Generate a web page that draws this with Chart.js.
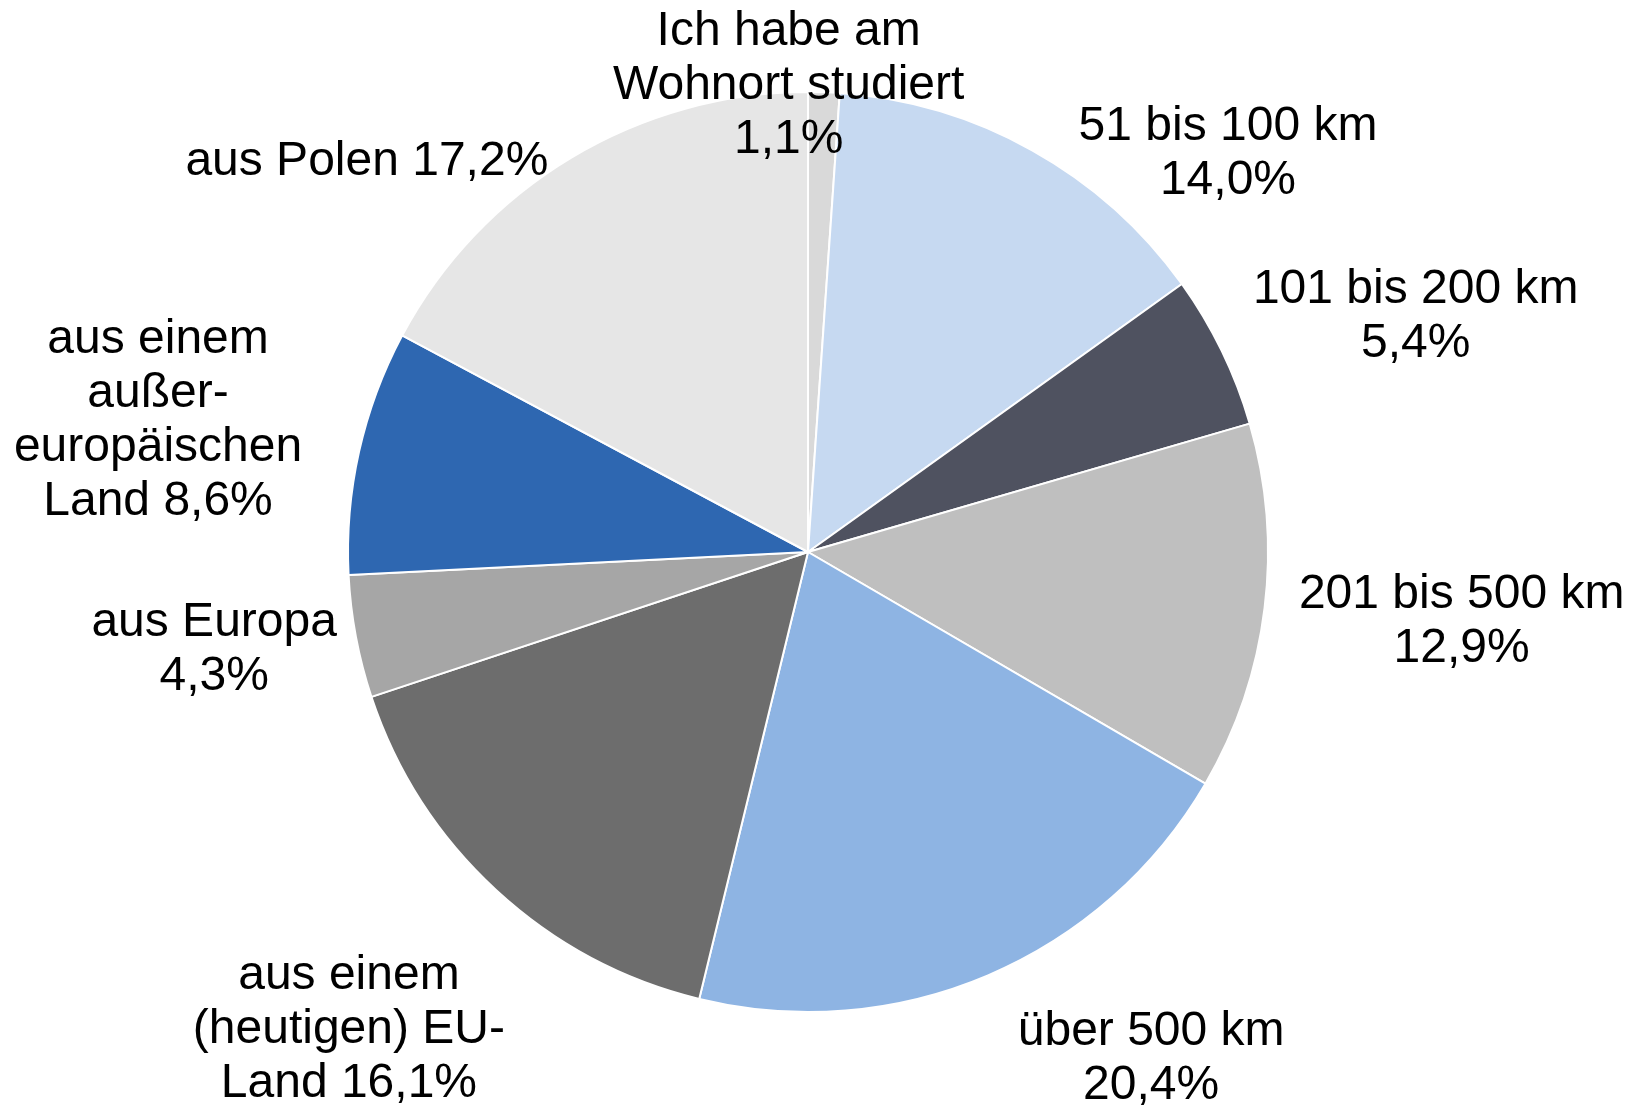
<!DOCTYPE html>
<html lang="de">
<head>
<meta charset="utf-8">
<title>Herkunft der Studierenden</title>
<script src="https://cdn.jsdelivr.net/npm/chart.js@4.4.1/dist/chart.umd.min.js"></script>
<style>
  html, body { margin: 0; padding: 0; background: #fff; }
  #wrap { width: 1642px; height: 1107px; }
</style>
</head>
<body>
<div id="wrap"><canvas id="pie" width="1642" height="1107"></canvas></div>
<script>
// Daten
const categories = [
    'Ich habe am Wohnort studiert', '51 bis 100 km', '101 bis 200 km', '201 bis 500 km',
    'über 500 km', 'aus einem (heutigen) EU-Land', 'aus Europa',
    'aus einem außereuropäischen Land', 'aus Polen'
];
const values = [1.1, 14.0, 5.4, 12.9, 20.4, 16.1, 4.3, 8.6, 17.2];

// Beschriftung, {v} = Prozentwert
const labelLines = [
    ['Ich habe am', 'Wohnort studiert', '{v}'],
    ['51 bis 100 km', '{v}'],
    ['101 bis 200 km', '{v}'],
    ['201 bis 500 km', '{v}'],
    ['über 500 km', '{v}'],
    ['aus einem', '(heutigen) EU-', 'Land {v}'],
    ['aus Europa', '{v}'],
    ['aus einem', 'außer-', 'europäischen', 'Land {v}'],
    ['aus Polen {v}']
];

const colors = ['#D9D9D9', '#C6D9F1', '#4F5260', '#BFBFBF', '#8EB4E3', '#6D6D6D', '#A6A6A6', '#2E67B1', '#E6E6E6'];

// Lage der Beschriftungen relativ zum Kreismittelpunkt (in Radien)
const labelOffsets = [
    [-0.042, -1.014], [0.913, -0.866], [1.321, -0.512], [1.421, 0.151], [0.746, 1.101],
    [-0.998, 1.039], [-1.291, 0.212], [-1.413, -0.285], [-0.959, -0.849]
];

const FONT = '48px "Liberation Sans", Arial, sans-serif';
const LINE_H = 54;

const fmt = v => v.toLocaleString('de-DE', { minimumFractionDigits: 1, maximumFractionDigits: 1 }) + '%';

const outsideLabels = {
    id: 'outsideLabels',
    afterDatasetsDraw(chart) {
        const ctx = chart.ctx;
        const meta = chart.getDatasetMeta(0);
        const arc0 = meta.data[0];
        const cx = arc0.x, cy = arc0.y, r = arc0.outerRadius;
        ctx.save();
        ctx.font = FONT;
        ctx.fillStyle = '#000';
        ctx.textAlign = 'center';
        ctx.textBaseline = 'middle';
        values.forEach((v, i) => {
            const lines = labelLines[i].map(l => l.replace('{v}', fmt(v)));
            const x = cx + labelOffsets[i][0] * r;
            const y = cy + labelOffsets[i][1] * r;
            const top = y - (lines.length - 1) * LINE_H / 2;
            lines.forEach((l, k) => ctx.fillText(l, x, top + k * LINE_H));
        });
        ctx.restore();
    }
};

new Chart(document.getElementById('pie'), {
    type: 'pie',
    data: {
        labels: categories,
        datasets: [{
            data: values,
            backgroundColor: colors,
            borderColor: '#ffffff',
            borderWidth: 2
        }]
    },
    options: {
        responsive: false,
        animation: false,
        layout: { padding: { top: 91, bottom: 94, left: 347, right: 373 } },
        plugins: {
            legend: { display: false },
            tooltip: { enabled: false }
        }
    },
    plugins: [outsideLabels]
});
</script>
</body>
</html>
